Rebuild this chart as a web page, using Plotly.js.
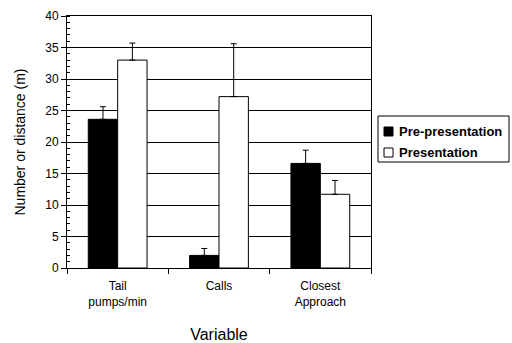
<!DOCTYPE html>
<html>
<head>
<meta charset="utf-8">
<script src="https://cdn.plot.ly/plotly-3.0.1.min.js"></script>
<style>html,body{margin:0;padding:0;background:#fff;}#chart{width:512px;height:343px;}</style>
</head>
<body>
<div id="chart"></div>
<script>
var categories = ["Tail<br>pumps/min", "Calls", "Closest<br>Approach"];
var seriesNames = ["Pre-presentation", "Presentation"];
var preValues = [23.6, 2.0, 16.6];
var preErrors = [2.0, 1.1, 2.1];
var presValues = [33.0, 27.2, 11.7];
var presErrors = [2.7, 8.4, 2.2];
var yTickVals = [0, 5, 10, 15, 20, 25, 30, 35, 40];

var font = "Liberation Sans, Arial, sans-serif";
var fills = ["#000000", "#ffffff"];

var traces = [
  {
    type: "bar", name: seriesNames[0], x: categories, y: preValues,
    marker: {color: fills[0], line: {color: "#000000", width: 1}},
    error_y: {type: "data", symmetric: false, array: preErrors, arrayminus: [0,0,0], color: "#000", thickness: 1, width: 3}
  },
  {
    type: "bar", name: seriesNames[1], x: categories, y: presValues,
    marker: {color: fills[1], line: {color: "#000000", width: 1}},
    error_y: {type: "data", symmetric: false, array: presErrors, arrayminus: [0,0,0], color: "#000", thickness: 1, width: 3}
  }
];

// plot area in pixels: x 67..371, y 16..268
function px(x) { return (x - 67) / 304; }
function py(y) { return (268 - y) / 252; }

var shapes = [
  {type: "rect", xref: "paper", yref: "paper", x0: px(378), x1: px(509), y0: py(162), y1: py(116),
   line: {color: "#000", width: 1}, fillcolor: "#fff", layer: "above"}
];
var annotations = [];
var rowY = [131.5, 152.5];
for (var i = 0; i < seriesNames.length; i++) {
  shapes.push({type: "rect", xref: "paper", yref: "paper",
    x0: px(384), x1: px(393), y0: py(rowY[i] + 4.5), y1: py(rowY[i] - 4.5),
    line: {color: "#000", width: 1}, fillcolor: fills[i], layer: "above"});
  annotations.push({xref: "paper", yref: "paper", x: px(397), y: py(rowY[i]),
    xanchor: "left", yanchor: "middle", showarrow: false, text: "<b>" + seriesNames[i] + "</b>",
    font: {family: font, size: 13, color: "#000"}});
}

var layout = {
  width: 512, height: 343,
  margin: {l: 67, r: 141, t: 16, b: 75},
  paper_bgcolor: "#fff", plot_bgcolor: "#fff",
  font: {family: font, size: 12, color: "#000"},
  barmode: "group", bargap: 0.42, bargroupgap: 0,
  showlegend: false,
  shapes: shapes,
  annotations: annotations,
  xaxis: {
    type: "category", tickson: "boundaries", ticks: "outside", ticklen: 5, tickcolor: "#000",
    showline: true, linecolor: "#000", linewidth: 1, mirror: true,
    showgrid: false, zeroline: false, ticklabelstandoff: 7,
    tickfont: {family: font, size: 12, color: "#000"},
    title: {text: "Variable", font: {family: font, size: 16, color: "#000"}, standoff: 23}
  },
  yaxis: {
    range: [0, 40], tickvals: yTickVals, ticks: "outside", ticklen: 5, tickcolor: "#000",
    showline: true, linecolor: "#000", linewidth: 1, mirror: true,
    showgrid: true, gridcolor: "#000", gridwidth: 1, zeroline: false,
    minor: {dtick: 1, ticks: "inside", ticklen: 3, tickcolor: "#000", showgrid: false},
    tickfont: {family: font, size: 12, color: "#000"},
    title: {text: "Number or distance (m)", font: {family: font, size: 14, color: "#000"}, standoff: 16}
  }
};

Plotly.newPlot("chart", traces, layout, {displayModeBar: false, staticPlot: true});
</script>
</body>
</html>
